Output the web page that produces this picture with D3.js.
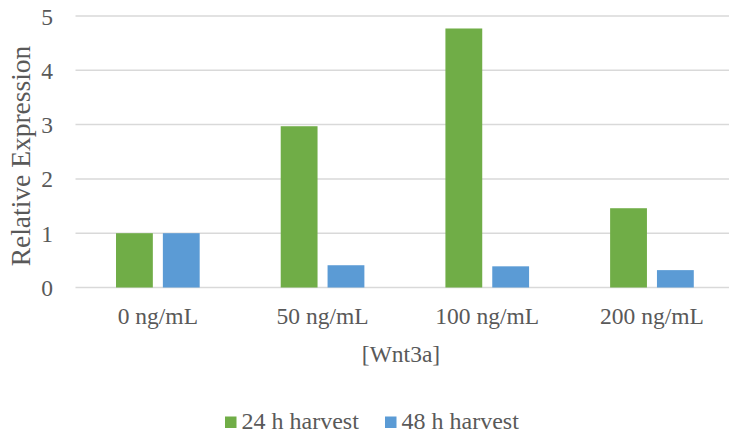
<!DOCTYPE html>
<html>
<head>
<meta charset="utf-8">
<script src="https://cdn.jsdelivr.net/npm/d3@7"></script>
<style>
  html, body { margin: 0; padding: 0; background: #fff; }
  svg { display: block; }
  svg text { font-family: "Liberation Serif", "Times New Roman", "DejaVu Serif", serif !important; fill: #595959; }
</style>
</head>
<body>
<svg id="chart" width="729" height="438" font-family="Liberation Serif"></svg>
<script>
// Wnt3a dose series: relative expression by harvest time
const categories = ["0 ng/mL", "50 ng/mL", "100 ng/mL", "200 ng/mL"];
const seriesNames = ["24 h harvest", "48 h harvest"];
const harvest24 = [1.0, 2.97, 4.77, 1.46];
const harvest48 = [1.0, 0.41, 0.39, 0.32];
const yTicks = [0, 1, 2, 3, 4, 5];
const colors = ["#70AD47", "#5B9BD5"];

const FONT = "'Liberation Serif', 'Times New Roman', 'DejaVu Serif', serif";

const seriesValues = [harvest24, harvest48];
const rows = categories.map((c, i) => ({
  category: c,
  values: seriesNames.map((s, j) => ({ series: s, value: seriesValues[j][i] }))
}));

const svg = d3.select("#chart");
const plot = { left: 75.5, right: 734.3, top: 16, bottom: 287.5 };

const x0 = d3.scaleBand()
  .domain(categories)
  .range([plot.left, plot.right])
  .paddingInner(0.492)
  .paddingOuter(0.246);

const x1 = d3.scaleBand()
  .domain(seriesNames)
  .range([0, x0.bandwidth()])
  .paddingInner(0.214);

const y = d3.scaleLinear().domain([0, 5]).range([plot.bottom, plot.top]);
const color = d3.scaleOrdinal().domain(seriesNames).range(colors);

// horizontal gridlines
svg.append("g")
  .selectAll("line")
  .data(yTicks)
  .join("line")
  .attr("x1", plot.left)
  .attr("x2", plot.right)
  .attr("y1", d => y(d))
  .attr("y2", d => y(d))
  .attr("stroke", "#D9D9D9")
  .attr("stroke-width", 1.5);

// y-axis tick labels
const yAxis = d3.axisLeft(y)
  .tickValues(yTicks)
  .tickFormat(d3.format("d"))
  .tickSize(0)
  .tickPadding(22.5);
const gy = svg.append("g").attr("transform", `translate(${plot.left},0)`).call(yAxis);
gy.attr("font-family", FONT).attr("font-size", 23.5);
gy.select(".domain").remove();
gy.selectAll("text")
  .style("font-family", FONT)
  .style("font-size", "23.5px")
  .attr("dy", "0.34em");

// bars
const groups = svg.append("g")
  .selectAll("g")
  .data(rows)
  .join("g")
  .attr("transform", d => `translate(${x0(d.category)},0)`);

groups.selectAll("rect")
  .data(d => d.values)
  .join("rect")
  .attr("x", d => x1(d.series))
  .attr("width", x1.bandwidth())
  .attr("y", d => y(d.value))
  .attr("height", d => y(0) - y(d.value))
  .attr("fill", d => color(d.series));

// x-axis category labels
const xAxis = d3.axisBottom(x0).tickSize(0).tickPadding(0);
const gx = svg.append("g").attr("transform", `translate(0,${plot.bottom})`).call(xAxis);
gx.attr("font-family", FONT).attr("font-size", 23.5);
gx.select(".domain").remove();
gx.selectAll("text")
  .style("font-family", FONT)
  .style("font-size", "23.5px")
  .attr("dy", null)
  .attr("y", 36.5);

// axis titles
svg.append("text")
  .attr("x", 401)
  .attr("y", 362)
  .attr("text-anchor", "middle")
  .style("font-family", FONT)
  .style("font-size", "23.5px")
  .text("[Wnt3a]");

svg.append("text")
  .attr("transform", "translate(30,156) rotate(-90)")
  .attr("text-anchor", "middle")
  .style("font-family", FONT)
  .style("font-size", "27.5px")
  .text("Relative Expression");

// legend
const legendX = [225, 385];
const legend = svg.append("g")
  .selectAll("g")
  .data(seriesNames)
  .join("g")
  .attr("transform", (d, i) => `translate(${legendX[i]},0)`);

legend.append("rect")
  .attr("x", 0)
  .attr("y", 416.5)
  .attr("width", 11.5)
  .attr("height", 11.5)
  .attr("fill", d => color(d));

legend.append("text")
  .attr("x", 16.5)
  .attr("y", 429)
  .style("font-family", FONT)
  .style("font-size", "24px")
  .text(d => d);
</script>
</body>
</html>
